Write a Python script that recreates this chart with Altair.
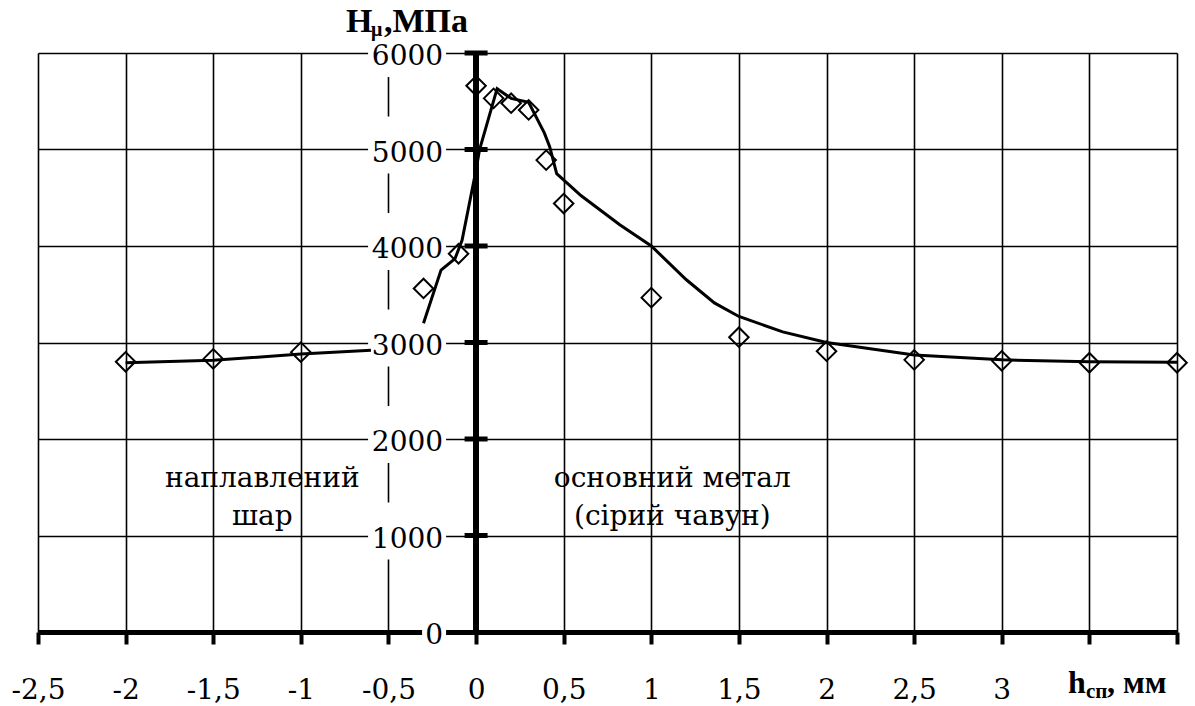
import altair as alt
import pandas as pd

# ---- data ----
# measured microhardness points (diamonds)
pt_x = [-2, -1.5, -1, -0.3, -0.1, 0, 0.1, 0.2, 0.3, 0.4, 0.5, 1, 1.5, 2, 2.5, 3, 3.5, 4]
pt_y = [2800, 2830, 2900, 3560, 3920, 5660, 5530, 5480, 5410, 4890, 4440, 3465, 3055, 2910, 2820, 2810, 2790, 2790]

# fitted curve, deposited layer part
c1_x = [-2, -1.5, -1, -0.6]
c1_y = [2790, 2815, 2880, 2920]
# fitted curve, base metal part
c2_x = [-0.3, -0.2, -0.12, -0.08, 0, 0.02, 0.12, 0.2, 0.3, 0.39, 0.42, 0.46, 0.6, 0.82,
        1, 1.2, 1.36, 1.5, 1.75, 2, 2.5, 3, 3.5, 4]
c2_y = [3200, 3750, 3870, 4060, 4790, 5000, 5630, 5530, 5490, 5170, 5030, 4750, 4520, 4220,
        4000, 3650, 3410, 3270, 3110, 3000, 2870, 2820, 2800, 2795]

x_ticks = [-2.5, -2, -1.5, -1, -0.5, 0, 0.5, 1, 1.5, 2, 2.5, 3, 3.5, 4]
y_ticks = [0, 1000, 2000, 3000, 4000, 5000, 6000]

ann_text = ["наплавлений", "шар", "основний метал", "(сірий чавун)"]
ann_x = [-1.22, -1.22, 1.12, 1.12]
ann_y = [1500, 1110, 1500, 1110]

FONT_B = "Liberation Serif"   # bold titles
FONT = "DejaVu Serif"         # regular texts

pts = pd.DataFrame({"x": pt_x, "y": pt_y})
curve = pd.DataFrame({
    "x": c1_x + c2_x,
    "y": c1_y + c2_y,
    "seg": ["a"] * len(c1_x) + ["b"] * len(c2_x),
})
yt = pd.DataFrame({"v": y_ticks, "t": [str(v) for v in y_ticks]})
ann = pd.DataFrame({"t": ann_text, "x": ann_x, "y": ann_y})

xscale = alt.Scale(domain=[-2.5, 4], nice=False, zero=False)
yscale = alt.Scale(domain=[0, 6000], nice=False, zero=False)

x_axis = alt.Axis(
    values=x_ticks, grid=True, gridColor="black", gridWidth=1.6, gridOpacity=1,
    domain=True, domainColor="black", domainWidth=5,
    ticks=True, tickColor="black", tickWidth=4, tickSize=12,
    labelFont=FONT, labelFontSize=28, labelColor="black", labelPadding=32,
    labelFlush=False, labelOverlap=False, title=None,
    labelExpr="datum.value >= 3.5 ? '' : (datum.value < 0 ? '-' : '') + replace(format(abs(datum.value), '~g'), '.', ',')",
)
y_axis = alt.Axis(
    values=y_ticks, grid=True, gridColor="black", gridWidth=1.6, gridOpacity=1,
    domain=False, ticks=False, labels=False, title=None,
)

X = alt.X("x:Q", scale=xscale, axis=x_axis)
Y = alt.Y("y:Q", scale=yscale, axis=y_axis)

# white boxes behind the y-axis labels (they interrupt the grid lines)
boxes4 = alt.Chart(yt).transform_filter("datum.v > 0").mark_rect(
    color="white", xOffset=-108, x2Offset=-30, yOffset=-33, y2Offset=24
).encode(
    x=alt.datum(0, scale=xscale), x2=alt.datum(0),
    y=alt.Y("v:Q", scale=yscale), y2="v:Q",
)
box0 = alt.Chart(yt).transform_filter("datum.v == 0").mark_rect(
    color="white", xOffset=-54, x2Offset=-30, yOffset=-33, y2Offset=24
).encode(
    x=alt.datum(0, scale=xscale), x2=alt.datum(0),
    y=alt.Y("v:Q", scale=yscale), y2="v:Q",
)

line = alt.Chart(curve).mark_line(color="black", strokeWidth=3).encode(
    x=X, y=Y, detail="seg:N", order=alt.Order("x:Q")
)
points = alt.Chart(pts).mark_point(
    shape="diamond", filled=False, size=380, stroke="black", strokeWidth=2, opacity=1
).encode(x=alt.X("x:Q", scale=xscale), y=alt.Y("y:Q", scale=yscale))

yaxis_rule = alt.Chart(yt).mark_rule(color="black", strokeWidth=5).encode(
    x=alt.datum(0, scale=xscale), y=alt.datum(0, scale=yscale), y2=alt.datum(6000)
)
yaxis_ticks = alt.Chart(yt).transform_filter("datum.v > 0").mark_tick(
    orient="horizontal", size=23, thickness=5, color="black", opacity=1
).encode(x=alt.datum(0, scale=xscale), y=alt.Y("v:Q", scale=yscale))
yaxis_labels = alt.Chart(yt).mark_text(
    align="right", baseline="middle", dx=-33, dy=4, font=FONT, fontSize=28, color="black"
).encode(x=alt.datum(0, scale=xscale), y=alt.Y("v:Q", scale=yscale), text="t:N")

annot = alt.Chart(ann).mark_text(
    align="center", baseline="alphabetic", font=FONT, fontSize=28, color="black"
).encode(x=alt.X("x:Q", scale=xscale), y=alt.Y("y:Q", scale=yscale), text="t:N")

def label(txt, x, y, size, align="left"):
    return alt.Chart(yt).transform_filter("datum.v == 0").mark_text(
        align=align, baseline="alphabetic", font=FONT_B, fontSize=size,
        fontWeight="bold", color="black", text=txt
    ).encode(x=alt.value(x), y=alt.value(y))

titles = [
    label("H", 308, -21, 34),
    label("μ", 333, -17, 20),
    label(",МПа", 346, -21, 34),
    label("h", 1030, 640, 32),
    label("сп", 1048, 645, 21),
    label(", мм", 1069, 640, 32),
]

chart = alt.layer(
    boxes4, box0, line, points, yaxis_rule, yaxis_ticks, yaxis_labels, annot, *titles
).properties(
    width=1139, height=579,
    padding={"left": 38, "top": 53, "right": 18, "bottom": 74},
    autosize=alt.AutoSizeParams(type="none"),
    background="white",
).configure_view(stroke=None)

chart.save("out.html", embed_options={"renderer": "svg", "actions": False})
